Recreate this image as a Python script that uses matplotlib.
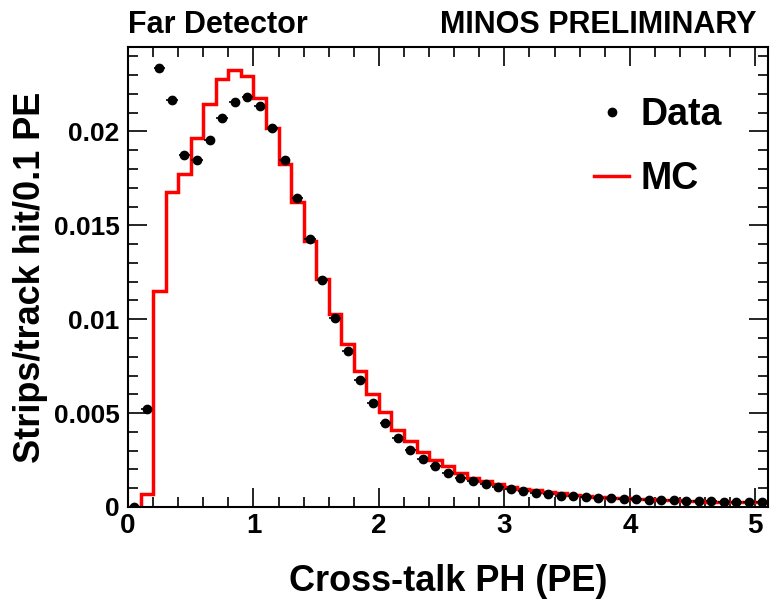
import numpy as np
import matplotlib
matplotlib.use('Agg')
import matplotlib.pyplot as plt
from matplotlib.lines import Line2D
from matplotlib.ticker import MultipleLocator, FixedLocator, FixedFormatter

plt.rcParams['font.family'] = ['Liberation Sans', 'DejaVu Sans']
plt.rcParams['font.weight'] = 'bold'

# bin edges / centres (0.1 PE bins)
bin_edges = np.round(np.arange(0, 5.11, 0.1), 2)
bin_centers = bin_edges[:-1] + 0.05

data_y = [0.0, 0.0052, 0.0234, 0.02167, 0.01873, 0.0185, 0.01953, 0.0207,
          0.02159, 0.02184, 0.02137, 0.02016, 0.01847, 0.01646, 0.01428,
          0.01209, 0.01009, 0.00831, 0.00675, 0.00552, 0.00447, 0.00367,
          0.00301, 0.00255, 0.00216, 0.00183, 0.00157, 0.00139, 0.00122,
          0.00109, 0.00096, 0.00087, 0.00077, 0.0007, 0.0006, 0.00057,
          0.00052, 0.0005, 0.00047, 0.00045, 0.0004, 0.00038, 0.00037,
          0.00035, 0.00033, 0.00031, 0.0003, 0.00029, 0.00028, 0.00027,
          0.00026]

mc_y = [0.0, 0.00068, 0.01151, 0.01677, 0.01775, 0.01963, 0.02144, 0.0228,
        0.02325, 0.02293, 0.0218, 0.0202, 0.01829, 0.01624, 0.01419,
        0.01214, 0.01027, 0.00866, 0.00723, 0.00604, 0.00504, 0.00412,
        0.00349, 0.00292, 0.00251, 0.00216, 0.00183, 0.00153, 0.0014,
        0.00123, 0.00108, 0.00097, 0.00088, 0.0008, 0.00072, 0.00066,
        0.0006, 0.00055, 0.0005, 0.00046, 0.00043, 0.0004, 0.00037,
        0.00035, 0.00033, 0.00031, 0.00029, 0.00027, 0.00026, 0.00025,
        0.00024]

fig = plt.figure(figsize=(7.7, 6), dpi=100)
ax = fig.add_axes([0.1662, 0.155, 0.831, 0.7667])

ax.stairs(mc_y, bin_edges, color='red', lw=2.5, zorder=2)
ax.errorbar(bin_centers, data_y, xerr=0.045, fmt='o', color='black',
            ms=6, elinewidth=1.2, capsize=0, zorder=3)

ax.set_xlim(0, 5.1)
ax.set_ylim(0, 0.0245)

ax.xaxis.set_major_locator(MultipleLocator(1))
ax.xaxis.set_minor_locator(MultipleLocator(0.2))
ax.yaxis.set_major_locator(FixedLocator([0, 0.005, 0.01, 0.015, 0.02]))
ax.yaxis.set_major_formatter(FixedFormatter(['0', '0.005', '0.01', '0.015', '0.02']))
ax.yaxis.set_minor_locator(MultipleLocator(0.001))

ax.tick_params(which='both', direction='in', top=True, right=True, width=1.2)
ax.tick_params(which='major', length=14)
ax.tick_params(which='minor', length=7)
ax.tick_params(axis='x', labelsize=20, pad=4)
ax.tick_params(axis='y', labelsize=19, pad=6)
for s in ax.spines.values():
    s.set_linewidth(1.5)
for lab in ax.get_xticklabels() + ax.get_yticklabels():
    lab.set_fontweight('bold')

ax.set_xlabel('Cross-talk PH (PE)', fontsize=26, fontweight='bold', labelpad=18)
ax.set_ylabel('Strips/track hit/0.1 PE', fontsize=26, fontweight='bold', labelpad=4)

fig.text(0.1662, 0.945, 'Far Detector', fontsize=22, fontweight='bold', ha='left')
fig.text(0.983, 0.945, 'MINOS PRELIMINARY', fontsize=22, fontweight='bold', ha='right')

handles = [Line2D([], [], ls='none', marker='o', color='black', ms=6),
           Line2D([], [], color='red', lw=2.5)]
ax.legend(handles, ['Data', 'MC'], loc='upper left', frameon=False,
          bbox_to_anchor=(0.728, 0.892), borderaxespad=0, borderpad=0,
          handlelength=0.95, handletextpad=0.3, labelspacing=0.76,
          prop={'weight': 'bold', 'size': 27})

fig.savefig('out.png', dpi=100)
